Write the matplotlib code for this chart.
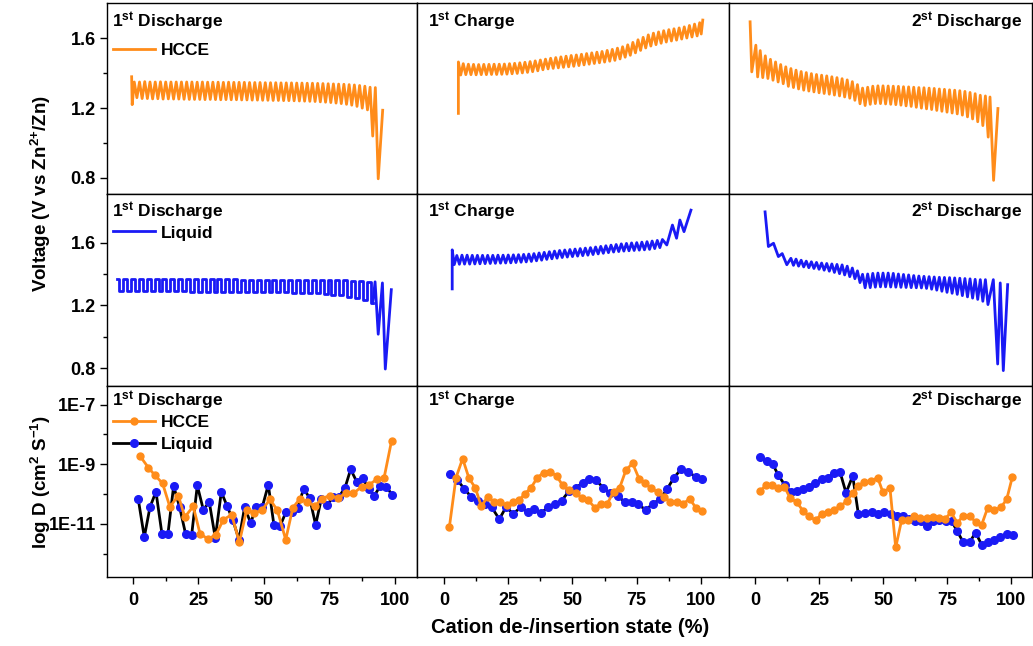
import numpy as np
import matplotlib
matplotlib.use('Agg')
import matplotlib.pyplot as plt
from matplotlib.ticker import MultipleLocator, FixedLocator, FuncFormatter, NullFormatter
from matplotlib.lines import Line2D

plt.rcParams['font.family'] = ['Liberation Sans', 'DejaVu Sans']
plt.rcParams['font.weight'] = 'bold'
plt.rcParams['mathtext.fontset'] = 'custom'
plt.rcParams['mathtext.rm'] = 'Liberation Sans:bold'
plt.rcParams['mathtext.bf'] = 'Liberation Sans:bold'
plt.rcParams['mathtext.it'] = 'Liberation Sans:bold'
plt.rcParams['mathtext.default'] = 'rm'

ORANGE = '#FF8C1A'
BLUE = '#1A1AF5'

# ---- GITT voltage curves (state %, voltage V) ----
# HCCE, 1st discharge
hcce_dis1_x = [-0.5, -0.3, 0.5, 1.5, 2.5, 3.5, 4.5, 5.5, 6.5, 7.5, 8.5, 9.5, 10.5, 11.5, 12.5, 13.5,
               14.5, 15.5, 16.5, 17.5, 18.5, 19.5, 20.5, 21.5, 22.5, 23.5, 24.5, 25.5, 26.5, 27.5,
               28.5, 29.5, 30.5, 31.5, 32.5, 33.5, 34.5, 35.5, 36.5, 37.5, 38.5, 39.5, 40.5, 41.5,
               42.5, 43.5, 44.5, 45.5, 46.5, 47.5, 48.5, 49.5, 50.5, 51.5, 52.5, 53.5, 54.5, 55.5,
               56.5, 57.5, 58.5, 59.5, 60.5, 61.5, 62.5, 63.5, 64.5, 65.5, 66.5, 67.5, 68.5, 69.5,
               70.5, 71.5, 72.5, 73.5, 74.5, 75.5, 76.5, 77.5, 78.5, 79.5, 80.5, 81.5, 82.5, 83.5,
               84.5, 85.5, 86.5, 87.5, 88.5, 89.5, 90.5, 91.5, 92.5, 93.6, 95.3]
hcce_dis1_v = [1.38, 1.22,
               1.35, 1.26, 1.35, 1.255, 1.352, 1.255, 1.35, 1.253, 1.35, 1.254,
               1.351, 1.252, 1.35, 1.253, 1.35, 1.252, 1.35, 1.252, 1.35, 1.251,
               1.35, 1.25, 1.35, 1.25, 1.349, 1.25, 1.35, 1.249, 1.349, 1.25,
               1.349, 1.249, 1.349, 1.248, 1.348, 1.249, 1.349, 1.248, 1.348, 1.248,
               1.348, 1.247, 1.348, 1.247, 1.347, 1.246, 1.347, 1.246, 1.347, 1.245,
               1.346, 1.245, 1.346, 1.244, 1.346, 1.244, 1.345, 1.243, 1.345, 1.243,
               1.345, 1.242, 1.344, 1.241, 1.344, 1.24, 1.343, 1.239, 1.343, 1.238,
               1.342, 1.236, 1.341, 1.234, 1.34, 1.232, 1.339, 1.229, 1.338, 1.226,
               1.337, 1.222, 1.335, 1.217, 1.333, 1.21, 1.33, 1.2, 1.326, 1.19,
               1.32, 1.04, 1.318, 0.795, 1.188]

# HCCE, 1st charge
hcce_ch1_x = [5.6, 5.6, 6.5, 7.5, 8.5, 9.5, 10.5, 11.5, 12.5, 13.5, 14.5, 15.5, 16.5, 17.5, 18.5,
              19.5, 20.5, 21.5, 22.5, 23.5, 24.5, 25.5, 26.5, 27.5, 28.5, 29.5, 30.5, 31.5, 32.5,
              33.5, 34.5, 35.5, 36.5, 37.5, 38.5, 39.5, 40.5, 41.5, 42.5, 43.5, 44.5, 45.5, 46.5,
              47.5, 48.5, 49.5, 50.5, 51.5, 52.5, 53.5, 54.5, 55.5, 56.5, 57.5, 58.5, 59.5, 60.5,
              61.5, 62.5, 63.5, 64.5, 65.5, 66.5, 67.5, 68.5, 69.5, 70.5, 71.5, 72.5, 73.5, 74.5,
              75.5, 76.5, 77.5, 78.5, 79.5, 80.5, 81.5, 82.5, 83.5, 84.5, 85.5, 86.5, 87.5, 88.5,
              89.5, 90.5, 91.5, 92.5, 93.5, 94.5, 95.5, 96.5, 97.5, 98.5, 99.5, 100.1, 100.7]
hcce_ch1_v = [1.17, 1.465,
              1.39, 1.455, 1.392, 1.452, 1.392, 1.451, 1.391, 1.45, 1.392, 1.451,
              1.392, 1.451, 1.393, 1.452, 1.393, 1.452, 1.394, 1.453, 1.395, 1.455,
              1.397, 1.457, 1.399, 1.46, 1.402, 1.463, 1.405, 1.467, 1.409, 1.471,
              1.414, 1.476, 1.42, 1.481, 1.425, 1.486, 1.428, 1.49, 1.431, 1.494,
              1.434, 1.498, 1.437, 1.502, 1.44, 1.505, 1.444, 1.509, 1.448, 1.513,
              1.452, 1.517, 1.456, 1.521, 1.46, 1.525, 1.464, 1.531, 1.469, 1.537,
              1.474, 1.544, 1.482, 1.552, 1.492, 1.563, 1.503, 1.577, 1.517, 1.592,
              1.531, 1.606, 1.545, 1.62, 1.556, 1.63, 1.564, 1.637, 1.572, 1.644,
              1.579, 1.65, 1.585, 1.655, 1.59, 1.66, 1.596, 1.666, 1.602, 1.674,
              1.608, 1.682, 1.614, 1.69,
              1.625, 1.705]

# HCCE, 2nd discharge
hcce_dis2_x = [-1.95, -1.3, 0.3, 1.0, 2, 3, 4, 5, 6, 7, 8, 9, 10, 11, 12, 13, 14, 15, 16, 17, 18, 19,
               20, 21, 22, 23, 24, 25, 26, 27, 28, 29, 30, 31, 32, 33, 34, 35, 36, 37, 38, 39, 40,
               41, 42, 43, 44, 45, 46, 47, 48, 49, 50, 51, 52, 53, 54, 55, 56, 57, 58, 59, 60, 61,
               62, 63, 64, 65, 66, 67, 68, 69, 70, 71, 72, 73, 74, 75, 76, 77, 78, 79, 80, 81, 82,
               83, 84, 85, 86, 87, 88, 89, 90, 91.1, 91.8, 93.2, 94.9]
hcce_dis2_v = [1.695, 1.408, 1.561, 1.379,
               1.53, 1.375, 1.5, 1.37, 1.48, 1.36, 1.465, 1.35, 1.45, 1.34,
               1.437, 1.325, 1.427, 1.318, 1.418, 1.31, 1.41, 1.303, 1.404, 1.298,
               1.398, 1.293, 1.393, 1.288, 1.389, 1.284, 1.385, 1.28, 1.38, 1.275,
               1.375, 1.27, 1.369, 1.264, 1.362, 1.257, 1.352, 1.245, 1.335, 1.225,
               1.315, 1.215, 1.32, 1.222, 1.326, 1.226, 1.328, 1.226, 1.328, 1.224,
               1.327, 1.222, 1.326, 1.22, 1.325, 1.217, 1.323, 1.213, 1.322, 1.21,
               1.32, 1.205, 1.318, 1.2, 1.317, 1.196, 1.315, 1.192, 1.313, 1.187,
               1.31, 1.182, 1.308, 1.177, 1.305, 1.172, 1.303, 1.167, 1.3, 1.16,
               1.296, 1.15, 1.29, 1.138, 1.283, 1.122, 1.274, 1.1,
               1.27, 1.034, 1.264, 0.786, 1.198]

# Liquid, 1st discharge (square-like relaxation steps + end of discharge)
liq_dis1_x = [-6, -4.5, -3, -1.5, 0, 1.5, 3, 4.5, 6, 7.5, 9, 10.5, 12, 13.5, 15, 16.5, 18, 19.5, 21,
              22.5, 24, 25.5, 27, 28.5, 30, 31.5, 33, 34.5, 36, 37.5, 39, 40.5, 42, 43.5, 45, 46.5,
              48, 49.5, 51, 52.5, 54, 55.5, 57, 58.5, 60, 61.5, 63, 64.5, 66, 67.5, 69, 70.5, 72,
              73.5, 75, 76.5, 78, 79.5, 81, 82.5, 84, 85.5, 87, 88.5, 90, 91.5]
liq_dis1_v = [1.365, 1.29, 1.367, 1.29, 1.367, 1.291, 1.366, 1.29, 1.366, 1.29,
              1.366, 1.29, 1.366, 1.289, 1.366, 1.289, 1.366, 1.289, 1.365, 1.288,
              1.365, 1.288, 1.365, 1.288, 1.365, 1.287, 1.365, 1.287, 1.365, 1.287,
              1.365, 1.286, 1.364, 1.286, 1.364, 1.285, 1.364, 1.285, 1.364, 1.284,
              1.364, 1.283, 1.364, 1.282, 1.363, 1.281, 1.363, 1.28, 1.363, 1.278,
              1.362, 1.276, 1.362, 1.273, 1.361, 1.269, 1.36, 1.263, 1.359, 1.255,
              1.357, 1.245, 1.355, 1.232, 1.352, 1.215]
liq_dis1_tail_x = [91.5, 92.4, 93.6, 95.2, 96.3, 98.6]
liq_dis1_tail_v = [1.215, 1.35, 1.016, 1.343, 0.794, 1.30]

# Liquid, 1st charge
liq_ch1_x = [3.2, 3.2, 4, 5, 6, 7, 8, 9, 10, 11, 12, 13, 14, 15, 16, 17, 18, 19, 20, 21, 22, 23, 24,
             25, 26, 27, 28, 29, 30, 31, 32, 33, 34, 35, 36, 37, 38, 39, 40, 41, 42, 43, 44, 45, 46,
             47, 48, 49, 50, 51, 52, 53, 54, 55, 56, 57, 58, 59, 60, 61, 62, 63, 64, 65, 66, 67, 68,
             69, 70, 71, 72, 73, 74, 75, 76, 77, 78, 79, 80, 81, 82, 83, 84, 85,
             86.7, 88.9, 90.5, 91.8, 93.4, 96.1]
liq_ch1_v = [1.305, 1.554,
             1.46, 1.518, 1.462, 1.52, 1.463, 1.52, 1.463, 1.519, 1.464, 1.519,
             1.465, 1.519, 1.466, 1.519, 1.467, 1.519, 1.468, 1.52, 1.469, 1.52,
             1.47, 1.521, 1.471, 1.522, 1.473, 1.523, 1.475, 1.525, 1.477, 1.527,
             1.48, 1.53, 1.484, 1.534, 1.488, 1.538, 1.493, 1.542, 1.497, 1.546,
             1.501, 1.55, 1.505, 1.553, 1.508, 1.556, 1.511, 1.559, 1.514, 1.562,
             1.517, 1.565, 1.52, 1.568, 1.524, 1.572, 1.528, 1.576, 1.532, 1.58,
             1.536, 1.584, 1.54, 1.588, 1.543, 1.592, 1.546, 1.595, 1.548, 1.598,
             1.55, 1.6, 1.552, 1.603, 1.554, 1.606, 1.557, 1.61, 1.562, 1.614,
             1.568, 1.62,
             1.585, 1.712, 1.628, 1.744, 1.67, 1.807]

# Liquid, 2nd discharge
liq_dis2_x = [3.9, 5.2, 7.2, 9.1, 10.6, 12.4, 14, 15, 16, 17, 18, 19, 20, 21, 22, 23, 24, 25, 26, 27,
              28, 29, 30, 31, 32, 33, 34, 35, 36, 37, 38, 39, 40, 41, 42, 43, 44, 45, 46, 47, 48, 49,
              50, 51, 52, 53, 54, 55, 56, 57, 58, 59, 60, 61, 62, 63, 64, 65, 66, 67, 68, 69, 70, 71,
              72, 73, 74, 75, 76, 77, 78, 79, 80, 81, 82, 83, 84, 85, 86, 87, 88, 89, 90, 91,
              93.1, 94.8, 95.8, 97.0, 98.7]
liq_dis2_v = [1.796, 1.575, 1.596, 1.511, 1.53, 1.459,
              1.5, 1.455, 1.495, 1.45, 1.488, 1.445, 1.482, 1.44, 1.478, 1.435,
              1.474, 1.43, 1.47, 1.424, 1.467, 1.418, 1.464, 1.41, 1.461, 1.402,
              1.458, 1.394, 1.45, 1.383, 1.438, 1.37, 1.42, 1.345, 1.398, 1.312,
              1.4, 1.313, 1.404, 1.316, 1.406, 1.318, 1.406, 1.318, 1.406, 1.317,
              1.404, 1.316, 1.4, 1.315, 1.397, 1.314, 1.394, 1.313, 1.39, 1.312,
              1.387, 1.311, 1.385, 1.308, 1.383, 1.303, 1.381, 1.297, 1.379, 1.29,
              1.378, 1.283, 1.377, 1.277, 1.375, 1.27, 1.373, 1.262, 1.371, 1.254,
              1.369, 1.246, 1.366, 1.238, 1.364, 1.226, 1.364, 1.205,
              1.364, 0.826, 1.343, 0.784, 1.332]

# ---- diffusion coefficients, log10(D / cm2 s-1) ----
d_dis1_hcce_x = [2.67, 5.85, 8.40, 11.3, 14.1, 17.3, 19.8, 23.0, 25.6, 28.7, 31.7, 34.5, 37.7, 40.6,
                 43.4, 46.2, 49.1, 52.3, 55.1, 58.3, 61.0, 63.7, 66.5, 69.5, 72.0, 75.2, 78.4, 81.3,
                 84.1, 87.3, 90.2, 93.0, 95.8, 98.7]
d_dis1_hcce = [-8.72, -9.11, -9.37, -9.64, -10.43, -10.05, -10.77, -10.41, -11.33, -11.51, -11.36,
               -10.86, -10.69, -11.62, -10.52, -10.63, -10.55, -10.18, -10.54, -11.53, -10.46,
               -10.16, -10.27, -10.41, -10.15, -10.05, -10.13, -9.96, -9.98, -9.75, -9.68, -9.51,
               -9.47, -8.21]
d_dis1_liq_x = [2.04, 4.33, 6.49, 8.78, 11.07, 13.36, 15.52, 17.81, 20.10, 22.39, 24.55, 26.84,
                29.13, 31.42, 33.71, 35.88, 38.17, 40.46, 42.62, 44.91, 47.07, 49.36, 51.65, 53.82,
                56.11, 58.40, 60.69, 62.85, 65.14, 67.43, 69.72, 71.88, 74.17, 76.46, 78.63, 80.92,
                83.08, 85.37, 87.66, 89.95, 92.11, 94.40, 96.69, 98.85]
d_dis1_liq = [-10.18, -11.44, -10.44, -9.92, -11.34, -11.33, -9.73, -10.44, -11.34, -11.38, -9.71,
              -10.52, -10.27, -11.47, -9.93, -10.39, -10.88, -11.53, -10.43, -10.97, -10.43, -10.43,
              -9.69, -11.05, -11.08, -10.60, -10.60, -10.46, -9.82, -10.13, -11.03, -10.16, -10.36,
              -10.09, -10.09, -9.79, -9.17, -9.58, -9.47, -9.82, -10.05, -9.73, -9.75, -10.02]

d_ch1_hcce_x = [2.07, 4.67, 7.26, 9.73, 12.19, 14.53, 16.99, 19.46, 21.92, 24.38, 26.72, 29.18,
                31.52, 33.85, 36.32, 38.78, 41.25, 43.84, 46.17, 48.77, 51.23, 53.70, 56.16, 58.75,
                61.09, 63.55, 66.02, 68.35, 70.82, 73.41, 75.88, 78.21, 80.67, 83.14, 85.60, 88.07,
                90.53, 93.13, 95.59, 98.05, 100.52]
d_ch1_hcce = [-11.12, -9.45, -8.81, -9.47, -9.79, -10.41, -10.09, -10.27, -10.27, -10.37, -10.27,
              -10.21, -9.99, -9.79, -9.45, -9.28, -9.25, -9.39, -9.71, -9.87, -9.96, -10.13, -10.21,
              -10.46, -10.32, -10.32, -9.92, -9.79, -9.19, -8.97, -9.48, -9.64, -9.81, -9.93,
              -10.09, -10.26, -10.26, -10.32, -10.16, -10.46, -10.58]
d_ch1_liq_x = [2.33, 5.19, 7.91, 10.51, 13.10, 15.95, 18.55, 21.53, 24.12, 26.98, 29.83, 32.56,
               35.15, 37.74, 40.60, 43.19, 45.78, 48.64, 51.36, 53.96, 56.55, 59.14, 62.00, 64.59,
               67.58, 70.43, 73.02, 75.62, 78.47, 81.19, 84.05, 86.77, 89.49, 92.22, 95.07, 97.93,
               100.52]
d_ch1_liq = [-9.34, -9.53, -9.82, -10.09, -10.24, -10.33, -10.44, -10.84, -10.44, -10.66, -10.44,
             -10.61, -10.50, -10.63, -10.44, -10.33, -10.22, -9.90, -9.79, -9.62, -9.48, -9.53,
             -9.79, -9.98, -10.07, -10.27, -10.27, -10.32, -10.55, -10.32, -10.18, -9.84, -9.45,
             -9.17, -9.26, -9.42, -9.51]

d_dis2_hcce_x = [1.95, 4.17, 6.77, 9.11, 11.46, 13.67, 16.28, 18.88, 21.22, 23.70, 26.04, 28.65,
                 30.99, 33.20, 35.81, 38.15, 40.36, 42.71, 45.31, 47.92, 49.87, 52.73, 54.95, 57.29,
                 59.64, 62.11, 64.45, 67.06, 69.66, 72.00, 74.22, 76.56, 79.04, 81.38, 83.98, 86.20,
                 88.54, 90.89, 93.36, 96.09, 98.31, 100.52]
d_dis2_hcce = [-9.90, -9.71, -9.68, -9.79, -9.75, -10.13, -10.27, -10.58, -10.75, -10.88, -10.66,
               -10.60, -10.52, -10.41, -10.24, -9.96, -9.73, -9.58, -9.56, -9.45, -9.92, -9.81,
               -11.79, -10.86, -10.86, -10.75, -10.80, -10.80, -10.78, -10.80, -10.84, -10.61,
               -10.97, -10.72, -10.72, -10.95, -11.03, -10.46, -10.54, -10.44, -10.18, -9.43]
d_dis2_liq_x = [1.95, 4.56, 6.90, 9.11, 11.72, 13.93, 16.28, 18.62, 21.09, 23.44, 26.04, 28.39,
                30.86, 33.20, 35.55, 38.15, 40.36, 42.97, 45.57, 47.92, 50.39, 53.00, 55.34, 57.68,
                60.16, 62.50, 64.84, 67.19, 69.66, 72.00, 74.48, 76.82, 79.04, 81.38, 83.98, 86.20,
                88.54, 91.15, 93.49, 95.83, 98.31, 100.91]
d_dis2_liq = [-8.77, -8.89, -9.00, -9.37, -9.71, -9.93, -9.90, -9.82, -9.75, -9.62, -9.51, -9.45,
              -9.30, -9.26, -9.96, -9.39, -10.67, -10.63, -10.60, -10.66, -10.60, -10.67, -10.72,
              -10.75, -10.84, -10.91, -10.91, -11.06, -10.91, -10.88, -10.91, -10.91, -11.25,
              -11.62, -11.59, -11.29, -11.70, -11.61, -11.53, -11.44, -11.34, -11.36]

titles = [r'1$^{st}$ Discharge', r'1$^{st}$ Charge', r'2$^{st}$ Discharge']
x_ticks = [0, 25, 50, 75, 100]

fig = plt.figure(figsize=(10.33, 6.46), dpi=100)
gs = fig.add_gridspec(3, 3, left=0.1036, right=0.999, top=0.9954, bottom=0.1068,
                      wspace=0, hspace=0, width_ratios=[310, 312, 303])
axes = [[fig.add_subplot(gs[r, c]) for c in range(3)] for r in range(3)]

xlims = [(-9.9, 108.4), (-10.5, 110.9), (-10.2, 108.2)]
ylims = [(0.706, 1.803), (0.688, 1.908)]

# row 1: HCCE voltage
axes[0][0].plot(hcce_dis1_x, hcce_dis1_v, color=ORANGE, lw=2)
axes[0][1].plot(hcce_ch1_x, hcce_ch1_v, color=ORANGE, lw=2)
axes[0][2].plot(hcce_dis2_x, hcce_dis2_v, color=ORANGE, lw=2)

# row 2: liquid voltage
axes[1][0].plot(liq_dis1_x, liq_dis1_v, color=BLUE, lw=2, drawstyle='steps-mid')
axes[1][0].plot(liq_dis1_tail_x, liq_dis1_tail_v, color=BLUE, lw=2)
axes[1][1].plot(liq_ch1_x, liq_ch1_v, color=BLUE, lw=2)
axes[1][2].plot(liq_dis2_x, liq_dis2_v, color=BLUE, lw=2)

# row 3: diffusion coefficient
d_sets = [(d_dis1_hcce_x, d_dis1_hcce, d_dis1_liq_x, d_dis1_liq),
          (d_ch1_hcce_x, d_ch1_hcce, d_ch1_liq_x, d_ch1_liq),
          (d_dis2_hcce_x, d_dis2_hcce, d_dis2_liq_x, d_dis2_liq)]
for c, (hx, hy, lx, ly) in enumerate(d_sets):
    ax = axes[2][c]
    ax.plot(lx, 10.0 ** np.array(ly), color='black', lw=2, marker='o', ms=5.5,
            mfc=BLUE, mec=BLUE)
    ax.plot(hx, 10.0 ** np.array(hy), color=ORANGE, lw=2, marker='o', ms=5,
            mfc=ORANGE, mec=ORANGE)
    ax.set_yscale('log')
    ax.set_ylim(10 ** -12.78, 10 ** -6.365)

for r in range(3):
    for c in range(3):
        ax = axes[r][c]
        ax.set_xlim(*xlims[c])
        if r < 2:
            ax.set_ylim(*ylims[r])
        for s in ax.spines.values():
            s.set_linewidth(1.0)
        ax.tick_params(which='both', direction='out', width=1, labelsize=13,
                       top=False, right=False)
        ax.tick_params(which='major', length=5)
        ax.tick_params(which='minor', length=3)
        if r == 2:
            ax.xaxis.set_major_locator(FixedLocator(x_ticks))
            ax.xaxis.set_minor_locator(MultipleLocator(12.5))
        else:
            ax.set_xticks([])
            ax.xaxis.set_minor_locator(FixedLocator([]))
        if c == 0:
            if r < 2:
                ax.yaxis.set_major_locator(FixedLocator([0.8, 1.2, 1.6]))
                ax.yaxis.set_minor_locator(FixedLocator([1.0, 1.4]))
            else:
                ax.yaxis.set_major_locator(FixedLocator([1e-11, 1e-9, 1e-7]))
                ax.yaxis.set_minor_locator(FixedLocator([1e-12, 1e-10, 1e-8]))
                ax.yaxis.set_major_formatter(
                    FuncFormatter(lambda v, p: '1E%d' % round(np.log10(v))))
                ax.yaxis.set_minor_formatter(NullFormatter())
        else:
            ax.tick_params(axis='y', which='both', left=False, labelleft=False)
        ax.tick_params(axis='x', which='both', pad=6)
        ax.tick_params(axis='y', which='both', pad=3)

        ty = [0.902, 0.907, 0.922][r]
        if c < 2:
            ax.text([0.016, 0.035][c], ty, titles[c], transform=ax.transAxes,
                    ha='left', va='center', fontsize=12.5, fontweight='bold')
        else:
            ax.text(0.967, ty, titles[c], transform=ax.transAxes,
                    ha='right', va='center', fontsize=12.5, fontweight='bold')

leg_kw = dict(loc='center left', frameon=False, fontsize=12.5, handlelength=2.4,
              handletextpad=0.35, borderpad=0, borderaxespad=0, labelspacing=0.35)
axes[0][0].legend(handles=[Line2D([], [], color=ORANGE, lw=2, label='HCCE')],
                  bbox_to_anchor=(0.019, 0.754), **leg_kw)
axes[1][0].legend(handles=[Line2D([], [], color=BLUE, lw=2, label='Liquid')],
                  bbox_to_anchor=(0.019, 0.798), **leg_kw)
axes[2][0].legend(handles=[Line2D([], [], color=ORANGE, lw=2, marker='o', ms=5, label='HCCE'),
                           Line2D([], [], color='black', lw=2, marker='o', ms=5.5,
                                  mfc=BLUE, mec=BLUE, label='Liquid')],
                  bbox_to_anchor=(0.019, 0.75), **leg_kw)

fig.text(0.040, 0.70, r'Voltage (V vs Zn$^{\text{2+}}$/Zn)', rotation=90, ha='center',
         va='center', fontsize=13.5, fontweight='bold')
fig.text(0.040, 0.254, r'log D (cm$^{2}$ S$^{-1}$)', rotation=90, ha='center', va='center',
         fontsize=13.5, fontweight='bold')
fig.text(0.552, 0.028, 'Cation de-/insertion state (%)', ha='center', va='center',
         fontsize=14.5, fontweight='bold')

fig.savefig('out.png', dpi=100)
